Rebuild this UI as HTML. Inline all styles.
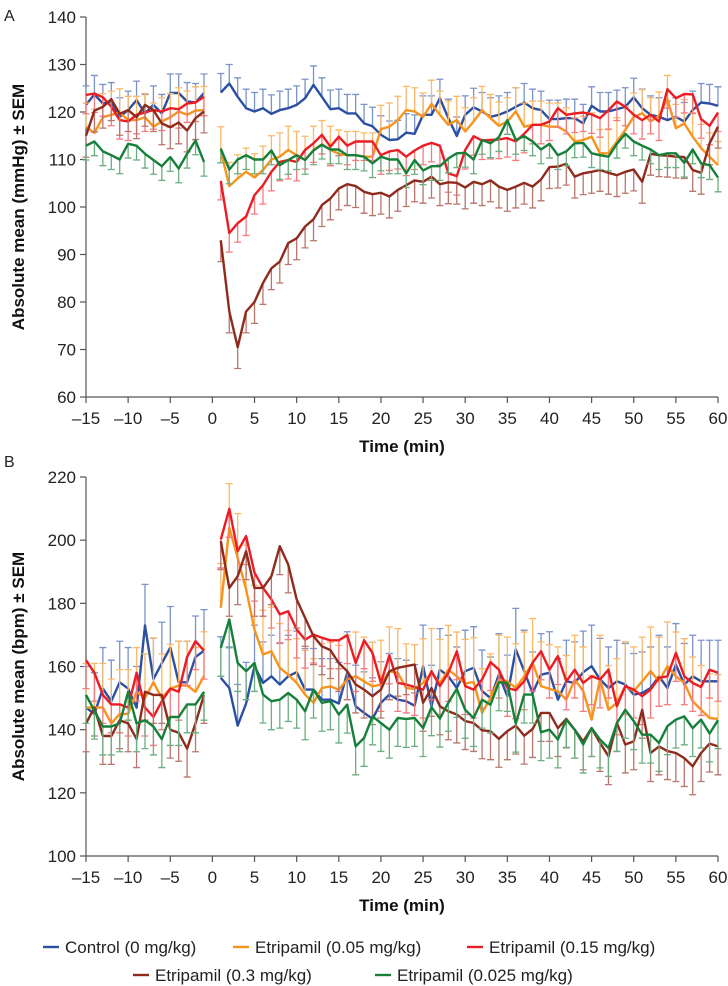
<!DOCTYPE html>
<html><head><meta charset="utf-8">
<style>
html,body{margin:0;padding:0;background:#fff;}
svg{display:block;font-family:"Liberation Sans",Arial,sans-serif;}
</style></head>
<body>
<svg id="chart" width="728" height="986" viewBox="0 0 728 986" xmlns="http://www.w3.org/2000/svg"></svg>
<script>
// ---------- DATA ----------
const timesPre = [-15,-14,-13,-12,-11,-10,-9,-8,-7,-6,-5,-4,-3,-2,-1];
const seriesNames = ["Control (0 mg/kg)","Etripamil (0.05 mg/kg)","Etripamil (0.15 mg/kg)","Etripamil (0.3 mg/kg)","Etripamil (0.025 mg/kg)"];
const yTicksA = [60,70,80,90,100,110,120,130,140];
const yTicksB = [100,120,140,160,180,200,220];
const xTicks = [-15,-10,-5,0,5,10,15,20,25,30,35,40,45,50,55,60];
const xTickLabels = ["\u201315","\u201310","\u20135","0","5","10","15","20","25","30","35","40","45","50","55","60"];
// panel A (mmHg): pre (-15..-1) followed by post (1..60)
const aControl = [121.5,123.7,121.8,122.2,119,120.4,122.5,119.7,121.5,119.7,124,124,122.2,122,124,
 124.1,126,123.2,120.8,120.1,120.8,119.6,120.4,120.8,121.5,122.9,125.7,123.2,120.6,120.8,119.7,119.7,117.6,117,115.2,114.1,
 114.25,115.65,115.4,119.4,119.4,122.9,118.7,114.95,119.4,121.0,120.1,119.0,119.4,120.1,121.1,122.0,120.8,120.4,118.5,118.5,118.7,118.7,117.6,121.3,120.1,120.1,120.6,121.1,123.1,120.8,119.4,119.0,118.3,119.0,118.0,120.4,122.0,121.8,121.3];
const aE005 = [116.9,115.6,118.9,119.4,119.9,118.3,118.3,118.9,116.9,118.0,118.9,120.1,119.4,120.3,120.4,
 111.9,104.4,106.0,107.4,106.2,107.8,110.0,110.6,112.0,110.9,109.9,112.0,113.2,112.0,111.2,110.9,110.9,110.6,110.6,116.4,116.9,
 118.3,120.4,120.1,119.0,121.7,119.4,117.3,118.3,115.9,118.0,120.4,118.7,117.1,118.0,120.1,116.9,117.3,117.3,116.9,116.9,115.9,113.8,114.1,114.8,111.3,111.3,113.8,116.2,119.0,119.7,118.0,119.2,122.7,116.6,117.6,114.8,112.4,110.6,108.8];
const aE015 = [123.6,123.9,123.1,121.1,118.3,118.0,119.4,119.9,120.4,120.1,120.8,120.6,121.8,122.0,123.2,
 105.5,94.5,96.6,98.0,102.5,104.6,107.4,109.5,109.9,109.5,112.0,113.4,115.2,112.7,114.8,112.9,113.8,113.8,113.8,110.9,111.7,
 112.0,110.6,111.9,112.9,113.5,112.9,107.1,106.5,112.0,114.9,114.0,114.1,114.2,114.5,113.8,115.4,117.3,117.3,118.0,120.8,119.4,119.7,119.9,119.5,118.7,120.4,122.2,121.1,119.4,118.3,119.4,118.0,124.8,122.9,123.8,123.7,118.5,117.1,119.9];
const aE03 = [115.0,120.3,121.1,122.7,119.6,120.4,118.9,121.5,120.4,117.6,116.8,117.8,116.1,118.7,120.1,
 93,78,70.5,78,80,84,87.1,88.5,92.4,93.4,95.9,97.4,100.4,101.8,103.9,104.8,104.4,103.2,102.7,103.0,102.2,
 103.6,104.6,105.6,105.3,106.4,104.8,105.2,105.1,104.1,105.3,104.8,105.6,104.3,103.6,104.3,105.1,104.3,105.8,108.4,108.5,109.1,106.4,107.1,107.4,107.8,107.2,106.7,107.4,107.9,105.3,111.2,110.9,110.8,110.6,110.5,107.8,107.2,113.4,116.9];
const aE0025 = [112.9,113.8,111.7,110.9,110.0,113.3,112.9,111.2,109.9,108.6,110.5,108.1,111.2,114.0,109.5,
 112.3,107.9,110.0,110.9,110.0,110.0,111.9,108.8,109.9,110.9,109.9,111.9,113.1,112.1,112.1,110.9,110.9,110.6,109.2,110.6,110.0,
 110.0,107.1,109.9,107.7,108.6,108.6,110.2,111.3,111.4,110.0,114.1,113.4,114.7,118.3,114.1,114.9,113.8,112.1,113.3,110.9,111.7,113.4,113.5,111.3,110.9,110.6,113.3,115.4,113.8,112.9,112.1,110.9,111.3,111.3,109.3,112.1,109.2,108.8,106.2];
// panel B (bpm)
const bControl = [147,145,153,149,155,153,147,173,156,161,166,155,155,163,165,
 156.4,153.2,141.3,148.3,160.1,154.8,156.9,154.3,156.9,158.2,152.7,152.7,149.5,149.5,148.3,158,147.4,145.3,143.4,148.5,151.1,
 149.5,149.0,147.6,160.1,147.4,159.0,156.9,153.2,158.5,159.6,152.2,150.0,157.4,150.6,165.4,158.5,151.6,157.4,158.0,149.5,155.3,154.8,158.2,160.1,155.9,153.2,155.3,154.3,151.1,151.6,153.2,156.9,153.2,160.6,154.3,156.9,155.3,155.3,155.3];
const bE005 = [147,147,147,142,145,145,152,150,155,150,153,154,154,152,157,
 178.6,203.9,194.4,184.4,171.7,163.8,164.8,159.6,157.4,154.8,151.1,148.5,153.2,153.7,152.7,155.9,156.9,155.3,153.7,154.3,158.5,
 158.0,153.2,152.9,154.8,158.0,154.6,159.0,156.9,154.6,155.1,145.3,150.0,155.9,155.3,153.2,156.9,161.2,153.8,152.9,152.2,149.5,155.9,152.2,143.2,155.9,146.3,148.5,153.8,152.2,155.3,158.5,155.3,160.1,156.9,154.8,149.0,146.3,143.7,143.4];
const bE015 = [162,158,151,148,148,147,158,147,144,149,153,152,163,168,165,
 200.2,209.9,196.5,201.3,189.7,184.9,181.2,176.5,177.5,171.7,168.5,170.1,169.1,168.3,168.3,169.9,161.1,168.3,164.3,154.8,163.5,
 154.8,154.3,153.5,152.7,158.5,153.8,158.0,164.8,153.8,152.7,155.9,161.4,159.0,153.2,152.5,155.3,161.2,164.8,159.0,163.3,155.3,159.0,154.8,156.9,155.9,159.0,147.4,153.8,152.7,150.6,152.7,156.4,156.9,164.3,156.9,154.8,153.5,159.0,158.0];
const bE03 = [142,147,138,138,143,142,137,152,151,151,140,139,134,142,151,
 199.7,184.9,188.6,196.5,184.9,184.9,188.6,198.1,192.3,181.2,175.4,169.6,166.4,165.2,161.1,158.5,154.3,152.7,150.6,152.7,158.5,
 159.6,160.1,160.6,148.5,153.2,147.4,145.8,144.8,142.7,142.1,139.8,139.5,137.1,139.5,141.3,138.1,140.2,145.3,145.3,140.5,143.4,140.0,136.3,140.5,135.8,131.6,142.1,135.3,136.3,146.3,132.6,134.7,133.2,132.6,131.0,128.4,132.6,135.6,134.7];
const bE0025 = [151,146,141,141,142,152,142,143,141,137,144,144,148,148,152,
 165.9,174.9,161.1,158.5,161.1,151.1,149,149.5,151.6,149.5,145.8,152.7,148.5,149,144.8,147.9,134.7,137.4,144.2,142.1,140,
 143.7,143.4,143.7,140.5,147.1,143.5,148.5,152.9,146.3,143.7,149.5,147.9,155.0,154.8,141.9,151.1,151.1,139.2,140.0,136.9,143.2,140.0,135.3,140.5,136.9,134.2,142.1,146.3,142.7,138.4,138.4,135.8,141.1,143.2,144.2,140.5,143.2,138.8,143.0];
// approximate SEM per series (Control, 0.05, 0.15, 0.3, 0.025)
const semA = [4,5,4,4.5,3];
const semB = [13,14,9,9,9];
const semDir = [-1,-1,1,1,1]; // -1 bars drawn upward, +1 downward

// ---------- DRAW ----------
const NS="http://www.w3.org/2000/svg";
const svg=document.getElementById('chart');
const colors=["#2b4fa2","#f7941d","#ec1c24","#8e2b1d","#16803a"];
const barColors=["#7b93c8","#fbb968","#f47a7e","#b8766c","#6cae7f"];
const timesPost=[];for(let t=1;t<=60;t++)timesPost.push(t);
const allTimes=timesPre.concat(timesPost);
const X0=86,X1=718;
function xs(t){return X0+(t+15)*(X1-X0)/75;}
function mk(tag,attrs,parent){const e=document.createElementNS(NS,tag);for(const k in attrs)e.setAttribute(k,attrs[k]);(parent||svg).appendChild(e);return e;}

function panel(cfg){
  const g=mk('g',{});
  
  
  const ys=v=>cfg.yTop+(cfg.max-v)*(cfg.yBot-cfg.yTop)/(cfg.max-cfg.min);
  const ya=mk('line',{x1:X0,y1:cfg.yTop,x2:X0,y2:cfg.yBot,stroke:'#555','stroke-width':1.2},g);
  
  const xa=mk('line',{x1:X0,y1:cfg.yBot,x2:X1,y2:cfg.yBot,stroke:'#555','stroke-width':1.2},g);
  
  cfg.yTicks.forEach(v=>{
    mk('line',{x1:X0-6,x2:X0,y1:ys(v),y2:ys(v),stroke:'#555','stroke-width':1.2},g);
    const t=mk('text',{x:76,y:ys(v)+6,'text-anchor':'end','font-size':17,fill:'#222'},g);
    t.textContent=v;
    
  });
  xTicks.forEach((v,i)=>{
    mk('line',{x1:xs(v),x2:xs(v),y1:cfg.yBot,y2:cfg.yBot+6,stroke:'#555','stroke-width':1.2},g);
    const t=mk('text',{x:xs(v),y:cfg.yBot+27,'text-anchor':'middle','font-size':17,fill:'#222'},g);
    t.textContent=xTickLabels[i];
    
  });
  const xt=mk('text',{x:(X0+X1)/2,y:cfg.yBot+55,'text-anchor':'middle','font-size':17,'font-weight':'bold',fill:'#111'},g);
  xt.textContent='Time (min)';
  
  const cy=(cfg.yTop+cfg.yBot)/2;
  const yt=mk('text',{x:0,y:0,transform:`translate(24,${cy}) rotate(-90)`,'text-anchor':'middle','font-size':17,'font-weight':'bold',fill:'#111'},g);
  yt.textContent=cfg.ytitle;
  
  const pl=mk('text',{x:4,y:cfg.yTop-(cfg.labelOff||0),'font-size':16,fill:'#222'},g);
  pl.textContent=cfg.letter;
  
  cfg.series.forEach((vals,si)=>{
    const sg=mk('g',{},g);
    
    
    const sem=cfg.sem[si],dir=semDir[si];
    vals.forEach((v,i)=>{
      const x=xs(allTimes[i]),y=ys(v),y2=ys(v-dir*sem);
      const b=mk('path',{d:`M${x},${y}V${y2}M${x-3.5},${y2}H${x+3.5}`,stroke:barColors[si],'stroke-width':1.3,fill:'none'},sg);
      
      
    });
    [[0,15],[15,vals.length]].forEach(([a,bEnd])=>{
      let d='';
      for(let i=a;i<bEnd;i++){d+=(i===a?'M':'L')+xs(allTimes[i]).toFixed(1)+','+ys(vals[i]).toFixed(1);}
      const p=mk('path',{d:d,stroke:colors[si],'stroke-width':2.4,fill:'none','stroke-linejoin':'round'},sg);
      
      
    });
  });
}
panel({name:'panel-a-blood-pressure',letter:'A',labelOff:-4,yTop:17,yBot:397,min:60,max:140,yTicks:yTicksA,ytitle:'Absolute mean (mmHg) \u00b1 SEM',series:[aControl,aE005,aE015,aE03,aE0025],sem:semA});
panel({name:'panel-b-heart-rate',letter:'B',labelOff:10,yTop:477,yBot:856,min:100,max:220,yTicks:yTicksB,ytitle:'Absolute mean (bpm) \u00b1 SEM',series:[bControl,bE005,bE015,bE03,bE0025],sem:semB});

const legPos=[[43,953],[233,953],[467,953],[133,981],[375,981]];
const lg=mk('g',{});


seriesNames.forEach((n,i)=>{
  const [x,y]=legPos[i];
  const e=mk('g',{},lg);
  
  
  mk('line',{x1:x,x2:x+16,y1:y-6,y2:y-6,stroke:colors[i],'stroke-width':2.4},e);
  const t=mk('text',{x:x+22,y:y,'font-size':17,fill:'#222'},e);
  t.textContent=n;
});
</script>
</body></html>
